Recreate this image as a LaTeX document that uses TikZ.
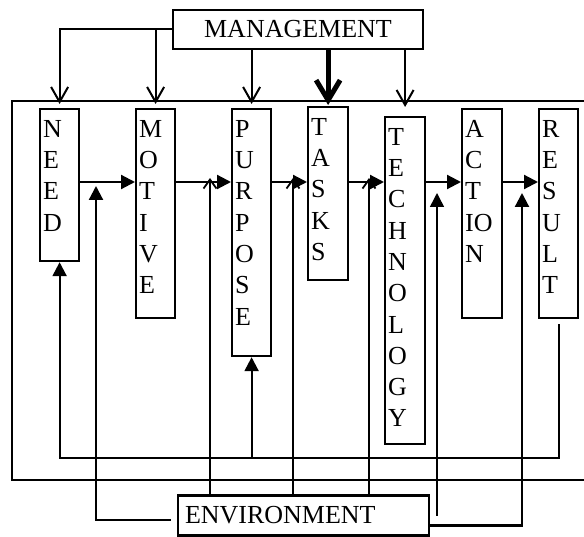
\documentclass[tikz,border=0pt]{standalone}
\usepackage{fontspec}
\setmainfont{Liberation Serif}
\usetikzlibrary{arrows.meta}

\newcommand{\bigserif}{\fontsize{26}{31.3}\selectfont}

\tikzset{
  frame/.style={line width=2.2pt},
  headbox/.style={draw, line width=2.2pt, inner sep=0pt, font=\bigserif},
  stage/.style={draw, line width=2.2pt, anchor=north west, inner sep=0pt},
  letters/.style={anchor=north west, align=left, inner sep=0pt,
    xshift=4pt, yshift=-12pt, font=\bigserif},
  flow/.style={line width=2.2pt, -{Triangle[length=14pt,width=14pt]}},
  feed/.style={line width=2.2pt, -{Triangle[length=14pt,width=14pt]}},
  mgline/.style={line width=2pt, shorten >=4pt, -{Straight Barb[length=15pt,width=17pt]}},
  mgthick/.style={line width=5pt, shorten >=1pt, -{Straight Barb[length=20pt,width=24pt]}},
  envbarb/.style={line width=1.8pt, -{Straight Barb[length=9pt,width=13pt]}}
}

\begin{document}
\begin{tikzpicture}[x=1pt, y=-1pt]
\useasboundingbox (0,0) rectangle (584,537);

% outer boxes
\node[headbox, minimum width=250pt, minimum height=39pt] (mgmt) at (298,29.5) {MANAGEMENT};
\node[headbox, minimum width=251pt, minimum height=40pt, text width=237pt, align=left] (env) at (303.5,515.5) {ENVIRONMENT};
\draw[frame] (590,101) -| (12,480) -- (590,480);

% stages
\node[stage, minimum width=39pt, minimum height=152pt, label={[letters]north west:N\\E\\E\\D}] (need) at (39,108) {};
\node[stage, minimum width=39pt, minimum height=209pt, label={[letters]north west:M\\O\\T\\I\\V\\E}] (motive) at (135,108) {};
\node[stage, minimum width=39pt, minimum height=247pt, label={[letters]north west:P\\U\\R\\P\\O\\S\\E}] (purpose) at (231,108) {};
\node[stage, minimum width=40pt, minimum height=173pt, label={[letters]north west:T\\A\\S\\K\\S}] (tasks) at (307,106) {};
\node[stage, minimum width=40pt, minimum height=327pt, label={[letters]north west:T\\E\\C\\H\\N\\O\\L\\O\\G\\Y}] (tech) at (384,116) {};
\node[stage, minimum width=40pt, minimum height=209pt, label={[letters]north west:A\\C\\T\\IO\\N}] (action) at (461,108) {};
\node[stage, minimum width=39pt, minimum height=209pt, label={[letters]north west:R\\E\\S\\U\\L\\T}] (result) at (538,108) {};

% main chain
\coordinate (lvl) at (0,182);
\foreach \a/\b in {need/motive, motive/purpose, purpose/tasks, tasks/tech, tech/action, action/result}
  \draw[flow] (\a.east |- lvl) -- (\b.west |- lvl);

% management
\draw[mgline] (mgmt.west) -| (need.north);
\draw[mgline] (mgmt.west -| motive.north) -- (motive.north);
\draw[mgline] (mgmt.south -| purpose.north) -- (purpose.north);
\draw[mgthick] (mgmt.south -| tasks.north) -- (tasks.north);
\draw[mgline, shorten >=9pt] (mgmt.south -| tech.north) -- (tech.north);

% feedback
\coordinate (fb) at (0,458);
\draw[feed] ([yshift=-5pt]result.south) |- (need.south |- fb) -- (need.south);
\draw[feed] (purpose.south |- fb) -- (purpose.south);

% environment
\coordinate (e1) at (96,186);
\coordinate (e2) at (210,178);
\coordinate (e3) at (293,178);
\coordinate (e4) at (369,178);
\coordinate (e5) at (437,193);
\coordinate (e6) at (522,193);
\draw[feed] ([shift={(-6pt,-4.5pt)}]env.west) -| (e1);
\foreach \c in {e2,e3,e4}
  \draw[envbarb] (env.north -| \c) -- (\c);
\draw[feed, line width=1.5pt] (env.east -| e5) -- (e5);
\draw[feed] ([yshift=-10pt]env.east) -| (e6);
\end{tikzpicture}
\end{document}
